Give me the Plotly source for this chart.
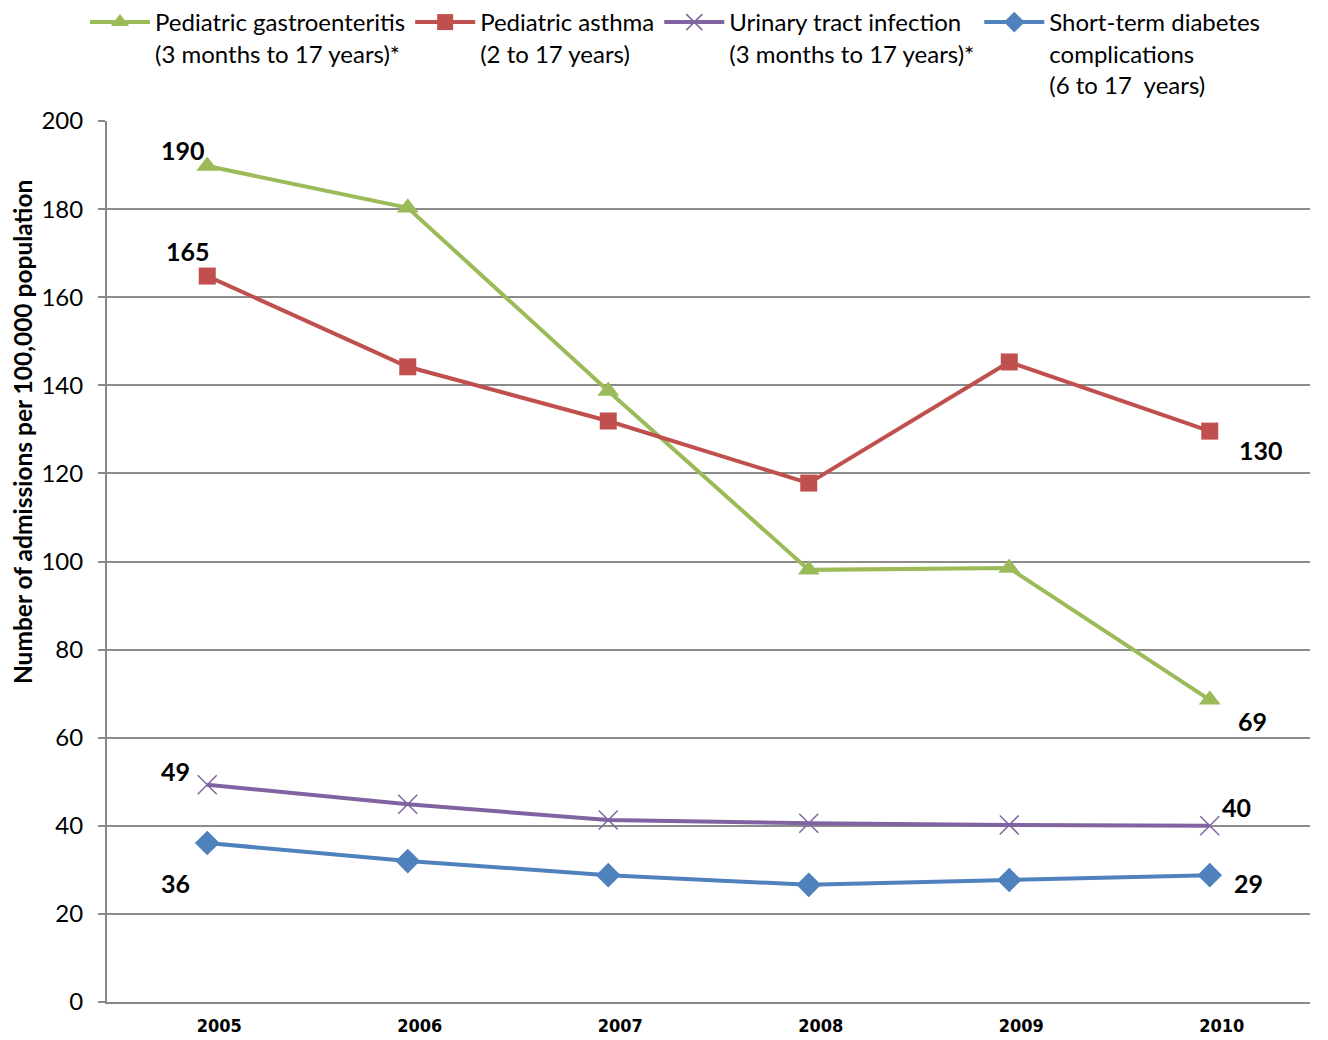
import plotly.graph_objects as go

years = ["2005", "2006", "2007", "2008", "2009", "2010"]
gastro = [189.8, 180.3, 138.7, 98.1, 98.5, 68.6]
asthma = [164.8, 144.2, 131.9, 117.8, 145.3, 129.6]
uti = [49.3, 44.9, 41.3, 40.6, 40.2, 40.0]
diabetes = [36.1, 32.0, 28.8, 26.6, 27.7, 28.8]

names = [
    "Pediatric gastroenteritis<br>(3 months to 17 years)*",
    "Pediatric asthma<br>(2 to 17 years)",
    "Urinary tract infection<br>(3 months to 17 years)*",
    "Short-term diabetes<br>complications<br>(6 to 17  years)",
]

label_font = "Lato, 'Open Sans', sans-serif"

fig = go.Figure()
fig.add_trace(go.Scatter(x=years, y=gastro, name=names[0], mode="lines+markers",
                         line=dict(color="#9BBB59", width=4),
                         marker=dict(symbol="triangle-up", size=19, color="#9BBB59")))
fig.add_trace(go.Scatter(x=years, y=asthma, name=names[1], mode="lines+markers",
                         line=dict(color="#C0504D", width=4),
                         marker=dict(symbol="square", size=17, color="#C0504D")))
fig.add_trace(go.Scatter(x=years, y=uti, name=names[2], mode="lines+markers",
                         line=dict(color="#8064A2", width=4),
                         marker=dict(symbol="x-thin", size=19, color="#8064A2",
                                     line=dict(color="#8064A2", width=1.5))))
fig.add_trace(go.Scatter(x=years, y=diabetes, name=names[3], mode="lines+markers",
                         line=dict(color="#4F81BD", width=4),
                         marker=dict(symbol="diamond", size=19, color="#4F81BD")))

# data labels (x given as category index)
first, last = 0, len(years) - 1
labels = [
    (first, gastro[0], "190", -24, 16),
    (first, asthma[0], "165", -19, 25),
    (first, uti[0], "49", -32, 14),
    (first, diabetes[0], "36", -32, -40),
    (last, asthma[-1], "130", 51, -19),
    (last, gastro[-1], "69", 43, -21),
    (last, uti[-1], "40", 27, 19),
    (last, diabetes[-1], "29", 39, -8),
]
for x, y, t, dx, dy in labels:
    fig.add_annotation(x=x, y=y, text="<b>%s</b>" % t, showarrow=False,
                       xshift=dx, yshift=dy,
                       font=dict(family=label_font, size=25, color="black"))

fig.add_annotation(xref="paper", yref="paper", x=-0.0698, y=0.647,
                   xanchor="center", yanchor="middle",
                   text="<b>Number of admissions per 100,000 population</b>",
                   textangle=-90, showarrow=False,
                   font=dict(family=label_font, size=24.5, color="black"))

fig.update_layout(
    width=1328, height=1040,
    margin=dict(l=107, r=18, t=121, b=38, autoexpand=False),
    plot_bgcolor="white", paper_bgcolor="white",
    font=dict(family=label_font, size=24, color="black"),
    showlegend=True,
    legend=dict(orientation="h", x=0.064, y=1.0, xanchor="left", yanchor="top",
                xref="container", yref="container",
                bgcolor="rgba(0,0,0,0)",
                font=dict(family=label_font, size=24, color="black"),
                valign="top", itemwidth=60, tracegroupgap=0,
                traceorder="normal", itemsizing="trace"),
    xaxis=dict(type="category", range=[-0.5, 5.5], showgrid=False, showline=True,
               linecolor="#888888", linewidth=2, ticks="",
               tickfont=dict(family="'DejaVu Sans Condensed', Lato, sans-serif",
                             size=18, color="black", weight="bold"),
               ticklabelshift=12, ticklabelstandoff=6, fixedrange=True),
    yaxis=dict(range=[0, 200], dtick=20, showgrid=True, gridcolor="#8C8C8C", gridwidth=1.5,
               showline=True, linecolor="#888888", linewidth=2, ticks="outside",
               ticklen=7, tickcolor="#888888", tickwidth=1.5, zeroline=False,
               ticklabelstandoff=10,
               tickfont=dict(size=24, color="black")),
)

fig.write_html("out.html")
